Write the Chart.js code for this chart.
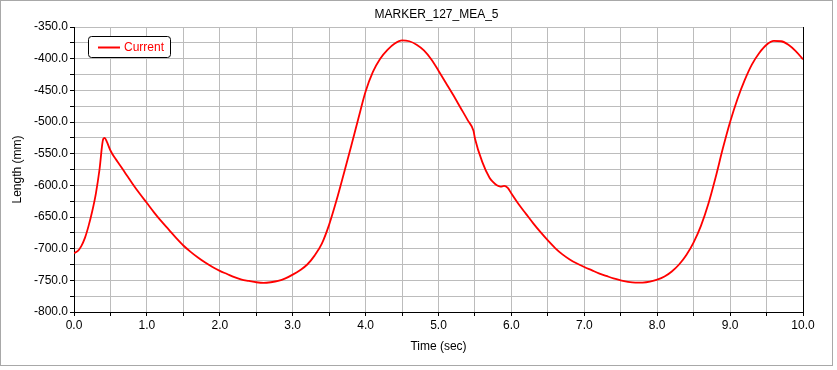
<!DOCTYPE html>
<html>
<head>
<meta charset="utf-8">
<script src="https://cdn.jsdelivr.net/npm/chart.js"></script>
<style>
  html,body{margin:0;padding:0;background:#fff}
  #wrap{width:837px;height:370px;position:relative}
</style>
</head>
<body>
<div id="wrap"><canvas id="c" width="837" height="370"></canvas></div>
<script>
/* ---------- data */
const TITLE   = 'MARKER_127_MEA_5';
const SERIES  = 'Current';
const X_LABEL = 'Time (sec)';
const Y_LABEL = 'Length (mm)';

const timeSec = [
  0.0, 0.05, 0.1, 0.15, 0.2, 0.25, 0.3, 0.35, 0.4, 0.42, 0.45, 0.5, 0.55, 0.6, 0.7, 0.8, 0.9,
  1.0, 1.1, 1.2, 1.3, 1.4, 1.5, 1.6, 1.7, 1.8, 1.9,
  2.0, 2.1, 2.2, 2.3, 2.4, 2.5, 2.6, 2.7, 2.8, 2.9,
  3.0, 3.1, 3.2, 3.3, 3.4, 3.5, 3.6, 3.7, 3.8, 3.9,
  4.0, 4.1, 4.2, 4.3, 4.4, 4.5, 4.6, 4.7, 4.8, 4.9,
  5.0, 5.1, 5.2, 5.3, 5.4, 5.48, 5.5, 5.6, 5.7, 5.75, 5.8, 5.85, 5.9, 5.95,
  6.0, 6.1, 6.2, 6.3, 6.4, 6.5, 6.6, 6.7, 6.8, 6.9,
  7.0, 7.1, 7.2, 7.3, 7.4, 7.5, 7.6, 7.7, 7.8, 7.9,
  8.0, 8.1, 8.2, 8.3, 8.4, 8.5, 8.6, 8.7, 8.8, 8.9,
  9.0, 9.1, 9.2, 9.3, 9.4, 9.5, 9.6, 9.7, 9.8, 9.9, 10.0
];
const lengthMm = [
  -707, -704, -696, -683, -664, -641, -613, -575, -527, -525, -531, -545, -555, -563, -580, -597, -613,
  -628, -643, -657, -670, -683, -695, -705, -714, -722, -729,
  -735, -740, -745, -749, -751, -753, -754, -753, -751, -747,
  -741, -734, -725, -711, -692, -662, -624, -582, -539, -495,
  -452, -421, -400, -386, -376, -371, -372.5, -378, -387, -401,
  -419, -438, -457, -477, -497, -514, -526, -563, -588, -595, -600, -602, -601, -604,
  -613, -630, -645, -660, -674, -687, -699, -709, -717, -723.5,
  -729, -734, -739, -743, -747, -750, -752.5, -753.7, -753.5, -752,
  -749, -744, -736, -725, -710, -690, -664, -630, -588, -542,
  -500, -464, -434, -409, -391, -378, -372, -372.5, -378, -388, -401
];

const X_MIN = 0, X_MAX = 10, X_STEP = 0.5;
const Y_MIN = -800, Y_MAX = -350, Y_STEP = 25;

const FONT = '"Liberation Sans", Arial, sans-serif';
const RED  = '#ff0000';
const GRID = '#bcbcbc';

/* ---------- frame, title, legend, right border */
const decor = {
  id: 'decor',
  beforeDraw(chart) {
    const ctx = chart.ctx;
    ctx.save();
    ctx.fillStyle = '#fff';
    ctx.fillRect(0, 0, chart.width, chart.height);
    ctx.strokeStyle = '#a8a8a8';
    ctx.lineWidth = 1;
    ctx.strokeRect(0.5, 0.5, 832, 365);
    ctx.restore();
  },
  afterDraw(chart) {
    const {ctx, chartArea: a} = chart;
    ctx.save();
    // right edge of the plot
    ctx.strokeStyle = '#000';
    ctx.lineWidth = 1;
    ctx.beginPath();
    ctx.moveTo(Math.round(a.right) + 0.5, a.top);
    ctx.lineTo(Math.round(a.right) + 0.5, a.bottom);
    ctx.stroke();

    // title
    ctx.fillStyle = '#000';
    ctx.font = '12px ' + FONT;
    ctx.textAlign = 'center';
    ctx.textBaseline = 'middle';
    ctx.fillText(TITLE, (a.left + a.right) / 2 - 2, 15);

    // legend box
    const lx = 88.5, ly = 36.5, lw = 82, lh = 21, r = 3;
    ctx.fillStyle = '#fff';
    ctx.strokeStyle = '#000';
    ctx.beginPath();
    ctx.roundRect(lx, ly, lw, lh, r);
    ctx.fill();
    ctx.stroke();
    ctx.strokeStyle = RED;
    ctx.lineWidth = 2;
    ctx.beginPath();
    ctx.moveTo(98, 47.5);
    ctx.lineTo(120, 47.5);
    ctx.stroke();
    ctx.fillStyle = RED;
    ctx.textAlign = 'left';
    ctx.fillText(chart.data.datasets[0].label, 124, 48);
    ctx.restore();
  }
};

const ctx = document.getElementById('c').getContext('2d');
new Chart(ctx, {
  type: 'line',
  data: {
    labels: timeSec,
    datasets: [{
      label: SERIES,
      data: timeSec.map((t, i) => ({x: t, y: lengthMm[i]})),
      borderColor: RED,
      borderWidth: 1.8,
      pointRadius: 0,
      cubicInterpolationMode: 'monotone',
      fill: false
    }]
  },
  options: {
    responsive: false,
    animation: false,
    events: [],
    layout: { padding: { top: 27, right: 34, left: 0, bottom: 0 } },
    plugins: { legend: { display: false }, title: { display: false }, tooltip: { enabled: false } },
    scales: {
      x: {
        type: 'linear',
        min: X_MIN, max: X_MAX,
        afterFit: s => { s.height = 58; },
        ticks: {
          stepSize: X_STEP,
          autoSkip: false,
          maxRotation: 0,
          padding: 2,
          color: '#000',
          font: { family: FONT, size: 12 },
          callback: v => (Math.abs(v % 1) < 1e-6 ? v.toFixed(1) : '')
        },
        grid: { color: GRID, tickColor: '#000', tickLength: 4 },
        border: { color: '#000', width: 1 },
        title: {
          display: true, text: X_LABEL, color: '#000',
          font: { family: FONT, size: 12 },
          padding: { top: 0, bottom: 16 }
        }
      },
      y: {
        min: Y_MIN, max: Y_MAX,
        afterFit: s => { s.width = 74; },
        ticks: {
          stepSize: Y_STEP,
          autoSkip: false,
          padding: 2,
          color: '#000',
          font: { family: FONT, size: 12 },
          callback: v => (v % 50 === 0 ? v.toFixed(1) : '')
        },
        grid: { color: GRID, tickColor: '#000', tickLength: 4 },
        border: { color: '#000', width: 1 },
        title: {
          display: true, text: Y_LABEL, color: '#000',
          font: { family: FONT, size: 12 },
          padding: { top: 10, bottom: 0 }
        }
      }
    }
  },
  plugins: [decor]
});
</script>
</body>
</html>
